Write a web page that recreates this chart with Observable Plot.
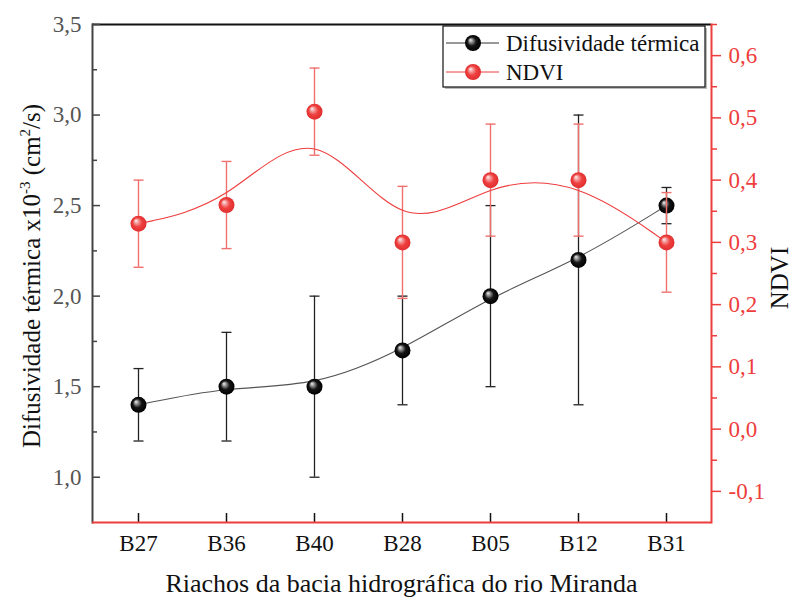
<!DOCTYPE html>
<html>
<head>
<meta charset="utf-8">
<script src="https://cdn.jsdelivr.net/npm/d3@7"></script>
<script src="https://cdn.jsdelivr.net/npm/@observablehq/plot@0.6"></script>
<style>
  html, body { margin: 0; padding: 0; background: #fff; }
  #wrap { position: relative; width: 795px; height: 599px; overflow: hidden; font-family: "Liberation Serif", "Times New Roman", serif; }
  #wrap > svg { position: absolute; left: 0; top: 0; }
</style>
</head>
<body>
<svg width="0" height="0" style="position:absolute">
  <defs>
    <radialGradient id="gBlack" cx="50%" cy="50%" r="50%" fx="33%" fy="30%">
      <stop offset="0%" stop-color="#f2f2f2"/>
      <stop offset="22%" stop-color="#9a9a9a"/>
      <stop offset="55%" stop-color="#151515"/>
      <stop offset="100%" stop-color="#000"/>
    </radialGradient>
    <radialGradient id="gRed" cx="50%" cy="50%" r="50%" fx="33%" fy="30%">
      <stop offset="0%" stop-color="#fff4f4"/>
      <stop offset="25%" stop-color="#f5a0a0"/>
      <stop offset="58%" stop-color="#ef4040"/>
      <stop offset="100%" stop-color="#e02e2e"/>
    </radialGradient>
  </defs>
</svg>
<div id="wrap"></div>
<script>
// ---- data ----
const streams = ["B27", "B36", "B40", "B28", "B05", "B12", "B31"];
const difMean = [1.4, 1.5, 1.5, 1.7, 2.0, 2.2, 2.5];
const difLow  = [1.2, 1.2, 1.0, 1.4, 1.5, 1.4, 2.4];
const difHigh = [1.6, 1.8, 2.0, 2.0, 2.5, 3.0, 2.6];
const ndviMean = [0.33, 0.36, 0.51, 0.30, 0.40, 0.40, 0.30];
const ndviLow  = [0.26, 0.29, 0.44, 0.21, 0.31, 0.31, 0.22];
const ndviHigh = [0.40, 0.43, 0.58, 0.39, 0.49, 0.49, 0.38];
const leftTicks = [1.0, 1.5, 2.0, 2.5, 3.0, 3.5];
const leftMinor = [1.25, 1.75, 2.25, 2.75, 3.25];
const rightTicks = [-0.1, 0.0, 0.1, 0.2, 0.3, 0.4, 0.5, 0.6];
const rightMinor = [-0.05, 0.05, 0.15, 0.25, 0.35, 0.45, 0.55, 0.65];
const leftDomain = [0.75, 3.5];
const rightDomain = [-0.15, 0.65];
const xTitle = "Riachos da bacia hidrográfica do rio Miranda";
const seriesNames = ["Difusividade térmica", "NDVI"];

const dif = streams.map((s, i) => ({s, v: difMean[i], lo: difLow[i], hi: difHigh[i]}));
const ndvi = streams.map((s, i) => ({s, v: ndviMean[i], lo: ndviLow[i], hi: ndviHigh[i]}));

const RED = "#ee3d3d";
const W = 795, H = 599;
const M = {marginLeft: 92, marginRight: 84, marginTop: 24, marginBottom: 77};
const fmt = d => (Math.round(d * 10) / 10).toFixed(1).replace(".", ",");
const xScale = {type: "point", domain: streams, padding: 0.5, label: null};
const style = {fontFamily: "Liberation Serif, Times New Roman, serif", fontSize: "23px", background: "transparent", overflow: "visible"};
// horizontal cap symbol for error bars
const cap = {draw(ctx, size) { const r = Math.sqrt(size / Math.PI); ctx.moveTo(-r, 0); ctx.lineTo(r, 0); }};

function bars(data, color, w) {
  return [
    Plot.ruleX(data, {x: "s", y1: "lo", y2: "hi", stroke: color, strokeWidth: w}),
    Plot.dot(data, {x: "s", y: "lo", symbol: cap, r: 5, fill: "none", stroke: color, strokeWidth: w}),
    Plot.dot(data, {x: "s", y: "hi", symbol: cap, r: 5, fill: "none", stroke: color, strokeWidth: w})
  ];
}

const p1 = Plot.plot({
  width: W, height: H, ...M, style,
  x: xScale,
  y: {domain: leftDomain, label: null},
  marks: [
    Plot.ruleY([leftDomain[1]], {stroke: "#111", strokeWidth: 2}),
    Plot.frame({anchor: "left", stroke: "#444", strokeWidth: 2}),
    Plot.axisY({ticks: leftTicks, tickSize: -8, fill: "none", stroke: "#444", strokeWidth: 1.5, label: null}),
    Plot.axisY({ticks: leftMinor, tickSize: -5, fill: "none", stroke: "#444", strokeWidth: 1.5, label: null}),
    Plot.axisY({ticks: leftTicks, tickSize: 0, tickPadding: 11, tickFormat: fmt, fill: "#555", fontSize: 23, label: null}),
    Plot.axisX({tickSize: -9, fill: "none", stroke: "#111", strokeWidth: 1.5, label: null}),
    Plot.axisX({tickSize: 0, tickPadding: 12, fill: "#111", fontSize: 23, label: null}),
    ...bars(dif, "#222", 1.3),
    Plot.line(dif, {x: "s", y: "v", curve: "basis", stroke: "#555", strokeWidth: 1.1}),
    Plot.dot(dif, {x: "s", y: "v", r: 8, fill: "url(#gBlack)", stroke: "none"})
  ]
});

const p2 = Plot.plot({
  width: W, height: H, ...M, style,
  x: {...xScale, axis: null},
  y: {domain: rightDomain, label: null},
  marks: [
    Plot.ruleY([rightDomain[0]], {stroke: RED, strokeWidth: 2}),
    Plot.frame({anchor: "right", stroke: RED, strokeWidth: 2}),
    Plot.axisY({anchor: "right", ticks: rightTicks, tickSize: 9, fill: "none", stroke: RED, strokeWidth: 1.5, label: null}),
    Plot.axisY({anchor: "right", ticks: rightMinor, tickSize: 5, fill: "none", stroke: RED, strokeWidth: 1.5, label: null}),
    Plot.axisY({anchor: "right", ticks: rightTicks, tickSize: 0, tickPadding: 17, tickFormat: fmt, fill: RED, fontSize: 23, label: null}),
    ...bars(ndvi, "#f07070", 1.4),
    Plot.line(ndvi, {x: "s", y: "v", curve: "basis", stroke: RED, strokeWidth: 1.1}),
    Plot.dot(ndvi, {x: "s", y: "v", r: 8, fill: "url(#gRed)", stroke: "none"})
  ]
});

const wrap = document.getElementById("wrap");
wrap.appendChild(p1);
wrap.appendChild(p2);

// titles and legend
const ov = d3.select(wrap).append("svg").attr("width", W).attr("height", H)
  .style("font-family", "Liberation Serif, Times New Roman, serif");

ov.append("text").attr("x", (92 + 711) / 2).attr("y", 592).attr("text-anchor", "middle")
  .attr("font-size", 26).attr("fill", "#111").text(xTitle);

const yt = ov.append("text").attr("transform", "translate(40,276) rotate(-90)")
  .attr("text-anchor", "middle").attr("font-size", 25).attr("fill", "#111");
yt.append("tspan").text("Difusividade térmica x10");
yt.append("tspan").attr("font-size", 15).attr("dy", -10).text("-3");
yt.append("tspan").attr("dy", 10).text(" (cm");
yt.append("tspan").attr("font-size", 15).attr("dy", -10).text("2");
yt.append("tspan").attr("dy", 10).text("/s)");

ov.append("text").attr("transform", "translate(788,278) rotate(-90)")
  .attr("text-anchor", "middle").attr("font-size", 25).attr("fill", "#111").text("NDVI");

// legend box
const lg = ov.append("g");
lg.append("rect").attr("x", 445).attr("y", 28).attr("width", 262).attr("height", 61).attr("fill", "#bbb");
lg.append("rect").attr("x", 443).attr("y", 26).attr("width", 262).attr("height", 61)
  .attr("fill", "#fff").attr("stroke", "#111").attr("stroke-width", 1.2);
const rows = [
  {name: seriesNames[0], y: 43, stroke: "#333", fill: "url(#gBlack)"},
  {name: seriesNames[1], y: 72, stroke: RED, fill: "url(#gRed)"}
];
rows.forEach(r => {
  lg.append("line").attr("x1", 446).attr("x2", 499).attr("y1", r.y).attr("y2", r.y)
    .attr("stroke", r.stroke).attr("stroke-width", 1);
  lg.append("circle").attr("cx", 473).attr("cy", r.y).attr("r", 8).attr("fill", r.fill);
  lg.append("text").attr("x", 506).attr("y", r.y + 7.5).attr("font-size", 23).attr("fill", "#111").text(r.name);
});
</script>
</body>
</html>
